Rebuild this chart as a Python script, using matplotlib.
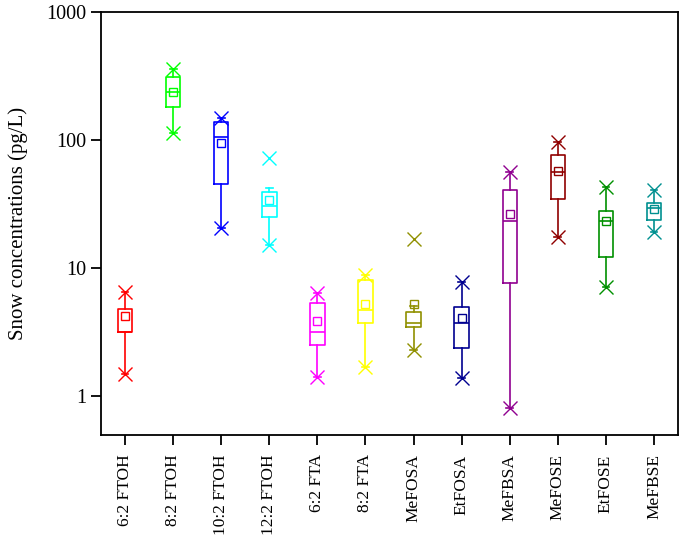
import matplotlib
matplotlib.use("Agg")
import matplotlib.pyplot as plt

plt.rcParams['font.family'] = ['Liberation Serif', 'DejaVu Serif']

# compounds and box statistics (pg/L)
names = ['6:2 FTOH', '8:2 FTOH', '10:2 FTOH', '12:2 FTOH', '6:2 FTA', '8:2 FTA',
         'MeFOSA', 'EtFOSA', 'MeFBSA', 'MeFOSE', 'EtFOSE', 'MeFBSE']
q1 = [3.19, 183, 45.7, 25.3, 2.51, 3.71, 3.51, 2.40, 7.69, 34.7, 12.3, 24.0]
med = [3.19, 237, 106, 30.8, 3.19, 4.71, 3.75, 3.72, 23.3, 56.0, 23.3, 29.7]
q3 = [4.79, 310, 139, 39.1, 5.40, 8.11, 4.60, 5.03, 41.1, 76.5, 28.2, 32.3]
mean = [4.23, 237, 95.5, 34.3, 3.91, 5.31, 5.31, 4.08, 26.7, 57.0, 23.4, 29.2]
whislo = [1.51, 114, 20.5, 15.2, 1.41, 1.70, 2.30, 1.40, 0.81, 17.5, 7.16, 19.1]
whishi = [6.58, 360, 150, 42.0, 6.43, 8.82, 5.12, 7.78, 56.4, 96.0, 42.8, 40.8]
vmin = [1.51, 114, 20.5, 15.2, 1.41, 1.70, 2.30, 1.40, 0.81, 17.5, 7.16, 19.1]
vmax = [6.58, 360, 150, 72.0, 6.43, 8.82, 16.9, 7.78, 56.4, 96.0, 42.8, 40.8]
colors = ['#FF0000', '#00FF00', '#0000FF', '#00FFFF', '#FF00FF', '#FFFF00',
          '#909000', '#000090', '#900090', '#900000', '#009000', '#009090']

fig = plt.figure(figsize=(6.83, 5.51), dpi=100)
ax = fig.add_axes([0.1479, 0.2105, 0.8448, 0.7677])

pos = list(range(1, len(names) + 1))
stats = []
for i in range(len(names)):
    stats.append(dict(label=names[i], q1=q1[i], med=med[i], q3=q3[i], mean=mean[i],
                      whislo=whislo[i], whishi=whishi[i], fliers=[]))

lw = 1.2
for i, st in enumerate(stats):
    c = colors[i]
    ax.bxp([st], positions=[pos[i]], widths=0.3, showmeans=True, showfliers=False,
           capwidths=[0.14],
           boxprops=dict(color=c, linewidth=lw),
           medianprops=dict(color=c, linewidth=lw),
           whiskerprops=dict(color=c, linewidth=lw),
           capprops=dict(color=c, linewidth=lw),
           meanprops=dict(marker='s', markersize=5.5, markerfacecolor='none',
                          markeredgecolor=c, markeredgewidth=1.0))
    ax.plot([pos[i], pos[i]], [vmin[i], vmax[i]], linestyle='none', marker='x',
            markersize=9.5, markeredgewidth=1.0, color=c)

ax.set_yscale('log')
ax.set_ylim(0.5, 1000)
ax.set_xlim(0.5, 12.5)
ax.set_yticks([1, 10, 100, 1000])
ax.set_yticklabels(['1', '10', '100', '1000'])
ax.yaxis.set_minor_locator(matplotlib.ticker.NullLocator())
ax.set_xticks(pos)
ax.set_xticklabels(names, rotation=90, fontsize=12.5)
ax.tick_params(axis='y', labelsize=14.5, direction='out', length=7, width=1.3)
ax.tick_params(axis='x', direction='out', length=7, width=1.3, pad=7)
for s in ax.spines.values():
    s.set_linewidth(1.3)
ax.set_ylabel('Snow concentrations (pg/L)', fontsize=15, labelpad=13)

fig.savefig('out.png', dpi=100)
